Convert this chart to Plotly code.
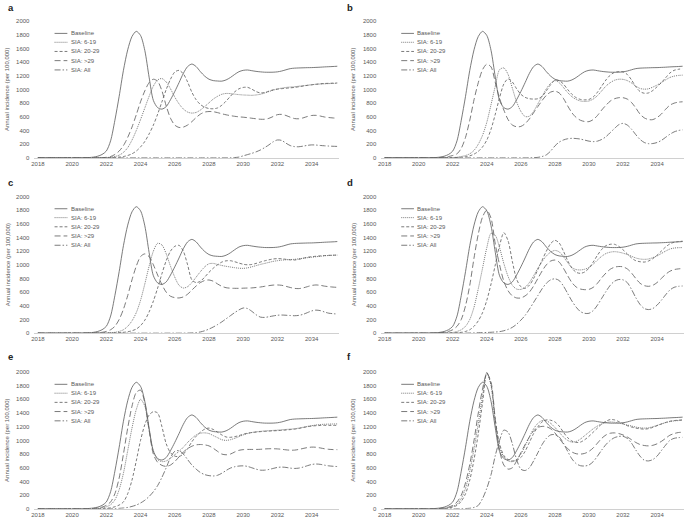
import numpy as np
import plotly.graph_objects as go

# time grid (quarter-year steps, 2018.00 .. 2035.50)
years = np.arange(2018.0, 2035.51, 0.25)

series_names = ["Baseline", "SIA: 6-19", "SIA: 20-29", "SIA: >29", "SIA: All"]
panel_labels = ["a", "b", "c", "d", "e", "f"]
x_ticks = [2018, 2020, 2022, 2024, 2026, 2028, 2030, 2032, 2034]
y_ticks = [0, 200, 400, 600, 800, 1000, 1200, 1400, 1600, 1800, 2000]
y_title = "Annual incidence (per 100,000)"

baseline = [0, 0, 0, 0,  0, 0, 0, 0,  0, 0, 1, 2,  5, 12, 25, 50,
            100, 250, 550, 900,  1280, 1580, 1775, 1850,  1790, 1570, 1180, 840,
            735, 713, 750, 850,  970, 1100, 1235, 1335,  1372, 1335, 1260, 1195,
            1150, 1130, 1124, 1122,  1140, 1175, 1220, 1260,  1280, 1285, 1275, 1265,
            1258, 1253, 1252, 1253,  1258, 1270, 1288, 1305,  1312, 1315, 1317, 1319,
            1320, 1323, 1326, 1330,  1333, 1336, 1340]

# ---- panel a ----
a_619 = [0, 0, 0, 0,  0, 0, 0, 0,  0, 0, 0, 0,  0, 1, 2, 3,
         5, 10, 20, 40,  80, 150, 260, 400,  560, 730, 900, 1050,
         1140, 1160, 1110, 1010,  890, 790, 715, 670,  655, 665, 700, 750,
         805, 860, 900, 930,  942, 940, 932, 925,  920, 917, 915, 920,
         930, 948, 970, 990,  1008, 1020, 1030, 1036,  1040, 1048, 1055, 1062,
         1070, 1076, 1080, 1083,  1086, 1088, 1090]
a_2029 = [0, 0, 0, 0,  0, 0, 0, 0,  0, 0, 0, 0,  0, 0, 0, 1,
          2, 4, 7, 12,  20, 35, 60, 100,  160, 240, 350, 480,
          640, 820, 1000, 1150,  1255, 1280, 1230, 1110,  960, 850, 780, 740,
          722, 718, 730, 770,  830, 900, 965, 1010,  1030, 1032, 1005, 970,
          950, 955, 975, 995,  1005, 1012, 1018, 1024,  1030, 1040, 1050, 1060,
          1068, 1076, 1083, 1088,  1090, 1093, 1095]
a_29 = [0, 0, 0, 0,  0, 0, 0, 0,  0, 0, 0, 0,  0, 1, 2, 4,
        8, 20, 50, 100,  180, 300, 450, 630,  820, 980, 1100, 1150,
        1120, 980, 760, 580,  480, 445, 450, 480,  530, 590, 640, 670,
        678, 675, 662, 645,  630, 618, 608, 600,  595, 588, 580, 572,
        565, 565, 578, 605,  632, 636, 620, 595,  575, 572, 585, 605,
        620, 622, 612, 598,  590, 584, 580]
a_all = [0, 0, 0, 0,  0, 0, 0, 0,  0, 0, 0, 0,  0, 0, 0, 0,
         0, 0, 0, 0,  0, 0, 0, 0,  0, 0, 0, 0,
         0, 0, 0, 0,  0, 0, 0, 0,  0, 0, 0, 0,
         0, 0, 0, 0,  0, 2, 5, 12,  30, 48, 66, 88,
         115, 150, 190, 235,  262, 255, 215, 180,  165, 163, 172, 183,
         190, 188, 182, 177,  173, 170, 168]

# ---- panel b ----
b_619 = [0, 0, 0, 0,  0, 0, 0, 0,  0, 0, 0, 0,  0, 1, 2, 3,
         5, 10, 20, 35,  60, 110, 200, 330,  520, 780, 1050, 1290,
         1315, 1220, 1020, 820,  680, 605, 610, 680,  790, 900, 1010, 1090,
         1130, 1100, 1030, 955,  895, 855, 832, 826,  832, 860, 910, 980,
         1050, 1100, 1135, 1150,  1148, 1130, 1095, 1050,  1015, 1005, 1010, 1035,
         1065, 1100, 1140, 1175,  1195, 1205, 1210]
b_2029 = [0, 0, 0, 0,  0, 0, 0, 0,  0, 0, 0, 0,  0, 0, 1, 2,
          2, 5, 10, 18,  30, 55, 95, 160,  260, 420, 640, 880,
          1080, 1155, 1110, 1010,  930, 885, 865, 860,  865, 900, 980, 1070,
          1135, 1130, 1080, 1000,  930, 880, 855, 848,  855, 890, 960, 1050,
          1140, 1210, 1250, 1262,  1258, 1220, 1140, 1040,  970, 945, 950, 985,
          1040, 1100, 1170, 1240,  1280, 1295, 1305]
b_29 = [0, 0, 0, 0,  0, 0, 0, 0,  0, 0, 0, 0,  2, 5, 10, 20,
        35, 60, 140, 300,  550, 850, 1100, 1290,  1370, 1330, 1100, 870,
        700, 560, 480, 455,  460, 500, 570, 660,  750, 840, 915, 962,
        975, 950, 870, 760,  660, 590, 550, 532,  530, 560, 620, 700,
        770, 830, 865, 880,  880, 860, 810, 730,  640, 585, 560, 560,
        590, 640, 710, 770,  800, 815, 820]
b_all = [0, 0, 0, 0,  0, 0, 0, 0,  0, 0, 0, 0,  0, 0, 0, 0,
         0, 0, 0, 0,  0, 0, 0, 0,  0, 0, 0, 0,
         0, 0, 0, 0,  0, 0, 1, 3,  8, 20, 45, 100,
         175, 230, 262, 280,  286, 283, 275, 260,  245, 238, 245, 270,
         310, 370, 430, 485,  505, 480, 420, 340,  270, 225, 208, 210,
         225, 255, 300, 345,  380, 400, 410]

# ---- panel c ----
c_619 = [0, 0, 0, 0,  0, 0, 0, 0,  0, 0, 0, 0,  0, 1, 2, 3,
         3, 6, 12, 25,  50, 100, 180, 300,  480, 720, 980, 1200,
         1315, 1290, 1160, 980,  820, 700, 660, 680,  740, 820, 900, 970,
         1015, 1020, 1005, 990,  978, 968, 958, 950,  948, 955, 970, 988,
         1005, 1020, 1035, 1050,  1060, 1068, 1073, 1077,  1080, 1088, 1096, 1104,
         1110, 1118, 1125, 1132,  1136, 1140, 1142]
c_2029 = [0, 0, 0, 0,  0, 0, 0, 0,  0, 0, 0, 0,  0, 0, 0, 1,
          1, 2, 4, 7,  12, 20, 35, 60,  110, 190, 310, 470,
          660, 870, 1060, 1200,  1270, 1285, 1200, 1000,  780, 740, 760, 820,
          890, 950, 1000, 1040,  1058, 1060, 1045, 1025,  1008, 1000, 1005, 1020,
          1040, 1058, 1073, 1085,  1090, 1088, 1080, 1072,  1070, 1080, 1095, 1110,
          1118, 1125, 1130, 1135,  1138, 1140, 1142]
c_29 = [0, 0, 0, 0,  0, 0, 0, 0,  0, 0, 0, 0,  1, 3, 6, 12,
        25, 50, 100, 200,  350, 550, 780, 980,  1120, 1160, 1120, 1000,
        850, 710, 600, 540,  520, 515, 530, 570,  630, 690, 740, 770,
        778, 760, 720, 685,  665, 658, 656, 656,  658, 660, 662, 668,
        675, 685, 695, 703,  705, 700, 685, 668,  655, 652, 662, 680,
        698, 705, 700, 688,  680, 674, 670]
c_all = [0, 0, 0, 0,  0, 0, 0, 0,  0, 0, 0, 0,  0, 0, 0, 0,
         0, 0, 0, 0,  0, 0, 0, 0,  0, 0, 0, 0,
         0, 0, 0, 0,  0, 0, 0, 1,  3, 8, 18, 35,
         60, 90, 125, 165,  210, 255, 300, 340,  368, 360, 320, 270,
         235, 230, 240, 252,  262, 265, 262, 258,  255, 260, 275, 300,
         325, 337, 330, 310,  292, 285, 280]

# ---- panel d ----
d_619 = [0, 0, 0, 0,  0, 0, 0, 0,  0, 0, 0, 0,  0, 1, 3, 5,
         10, 25, 50, 100,  200, 380, 650, 950,  1250, 1460, 1430, 1250,
         1020, 830, 700, 645,  640, 670, 740, 840,  950, 1050, 1130, 1185,
         1210, 1190, 1120, 1030,  960, 930, 925, 935,  960, 1010, 1070, 1125,
         1165, 1185, 1192, 1185,  1170, 1150, 1125, 1100,  1085, 1080, 1085, 1105,
         1130, 1165, 1200, 1230,  1245, 1250, 1252]
d_2029 = [0, 0, 0, 0,  0, 0, 0, 0,  0, 0, 0, 0,  0, 0, 1, 2,
          3, 6, 12, 25,  50, 100, 180, 300,  480, 720, 1000, 1280,
          1470, 1350, 1050, 790,  680, 655, 700, 800,  930, 1070, 1200, 1310,
          1358, 1320, 1200, 1060,  950, 890, 875, 895,  950, 1040, 1140, 1225,
          1280, 1300, 1300, 1270,  1220, 1160, 1100, 1060,  1045, 1040, 1055, 1090,
          1140, 1200, 1260, 1305,  1330, 1340, 1345]
d_29 = [0, 0, 0, 0,  0, 0, 0, 0,  0, 0, 0, 0,  2, 5, 12, 25,
        50, 100, 200, 400,  700, 1100, 1450, 1700,  1800, 1680, 1300, 1000,
        760, 620, 545, 515,  515, 545, 600, 690,  800, 910, 1000, 1055,
        1070, 1040, 950, 840,  740, 675, 645, 636,  640, 670, 730, 810,
        880, 935, 965, 975,  970, 940, 880, 800,  730, 695, 685, 700,
        740, 800, 860, 905,  930, 940, 945]
d_all = [0, 0, 0, 0,  0, 0, 0, 0,  0, 0, 0, 0,  0, 0, 0, 0,
         0, 0, 0, 0,  2, 4, 6, 8,  10, 13, 17, 22,
         35, 55, 85, 130,  190, 260, 350, 450,  550, 650, 730, 780,
         795, 770, 690, 580,  470, 380, 315, 290,  290, 330, 410, 510,
         610, 700, 760, 785,  780, 740, 640, 520,  420, 360, 345, 360,
         410, 480, 560, 630,  670, 685, 690]

# ---- panel e ----
e_619 = [0, 0, 0, 0,  0, 0, 0, 0,  0, 0, 0, 0,  1, 3, 7, 15,
         30, 60, 130, 280,  520, 850, 1180, 1450,  1600, 1500, 1150, 850,
         720, 690, 700, 740,  790, 840, 900, 970,  1030, 1080, 1105, 1110,
         1100, 1070, 1040, 1010,  1000, 1010, 1030, 1055,  1080, 1100, 1115, 1125,
         1132, 1138, 1142, 1146,  1150, 1155, 1160, 1165,  1170, 1180, 1192, 1205,
         1215, 1225, 1232, 1236,  1238, 1240, 1241]
e_2029 = [0, 0, 0, 0,  0, 0, 0, 0,  0, 0, 0, 0,  0, 1, 2, 4,
          8, 15, 30, 55,  100, 220, 420, 700,  1000, 1230, 1370, 1420,
          1400, 1200, 950, 820,  770, 765, 800, 880,  980, 1060, 1120, 1165,
          1180, 1160, 1120, 1080,  1050, 1045, 1055, 1070,  1090, 1105, 1115, 1122,
          1128, 1132, 1136, 1140,  1143, 1147, 1152, 1158,  1165, 1175, 1188, 1200,
          1210, 1215, 1218, 1220,  1220, 1220, 1220]
e_29 = [0, 0, 0, 0,  0, 0, 0, 0,  0, 0, 0, 0,  2, 5, 12, 25,
        50, 100, 220, 450,  800, 1180, 1500, 1700,  1735, 1550, 1150, 800,
        680, 635, 620, 640,  690, 760, 830, 880,  915, 935, 940, 935,
        920, 885, 840, 800,  790, 800, 830, 855,  865, 868, 868, 868,
        870, 875, 878, 878,  876, 870, 862, 857,  858, 868, 882, 895,
        902, 900, 890, 878,  870, 866, 865]
e_all = [0, 0, 0, 0,  0, 0, 0, 0,  0, 0, 0, 0,  0, 0, 0, 0,
         1, 2, 4, 7,  12, 20, 35, 55,  85, 125, 180, 250,
         340, 460, 600, 750,  840, 850, 800, 720,  640, 580, 530, 500,
         485, 480, 490, 520,  560, 595, 615, 625,  628, 620, 600, 580,
         565, 565, 575, 590,  605, 610, 605, 595,  590, 595, 610, 630,
         648, 655, 650, 638,  628, 622, 618]

# ---- panel f ----
f_619 = [0, 0, 0, 0,  0, 0, 0, 0,  0, 0, 0, 0,  1, 3, 8, 18,
         35, 70, 150, 300,  550, 880, 1250, 1650,  1990, 1800, 1250, 900,
         760, 700, 690, 720,  800, 920, 1050, 1170,  1250, 1290, 1285, 1250,
         1190, 1120, 1050, 1000,  975, 985, 1020, 1070,  1120, 1170, 1210, 1240,
         1260, 1270, 1265, 1255,  1240, 1225, 1210, 1195,  1185, 1180, 1185, 1200,
         1220, 1240, 1260, 1275,  1285, 1290, 1295]
f_2029 = [0, 0, 0, 0,  0, 0, 0, 0,  0, 0, 0, 0,  0, 2, 5, 12,
          25, 50, 110, 220,  420, 720, 1100, 1550,  1990, 1820, 1300, 950,
          780, 720, 700, 710,  750, 840, 970, 1100,  1200, 1270, 1300, 1295,
          1270, 1210, 1120, 1040,  990, 970, 975, 1010,  1060, 1120, 1180, 1240,
          1280, 1305, 1300, 1275,  1245, 1215, 1195, 1180,  1170, 1165, 1172, 1190,
          1215, 1240, 1262, 1280,  1290, 1295, 1300]
f_29 = [0, 0, 0, 0,  0, 0, 0, 0,  0, 0, 0, 0,  2, 5, 12, 25,
        50, 100, 200, 380,  650, 1000, 1400, 1750,  1980, 1850, 1300, 850,
        640, 580, 600, 700,  820, 940, 1050, 1140,  1190, 1205, 1200, 1170,
        1110, 1030, 950, 880,  830, 805, 800, 810,  840, 890, 960, 1030,
        1080, 1105, 1110, 1100,  1080, 1050, 1010, 970,  940, 925, 920, 928,
        950, 985, 1030, 1075,  1100, 1115, 1120]
f_all = [0, 0, 0, 0,  0, 0, 0, 0,  0, 0, 0, 0,  0, 0, 0, 0,
         0, 1, 2, 4,  8, 20, 50, 150,  300, 500, 780, 1000,
         1150, 1120, 950, 720,  580, 560, 600, 700,  820, 940, 1030, 1080,
         1085, 1050, 960, 840,  730, 660, 630, 626,  640, 690, 770, 860,
         940, 1000, 1040, 1058,  1060, 1030, 960, 860,  770, 710, 700, 720,
         770, 850, 930, 1000,  1030, 1040, 1045]

panels = [
    [baseline, a_619, a_2029, a_29, a_all],
    [baseline, b_619, b_2029, b_29, b_all],
    [baseline, c_619, c_2029, c_29, c_all],
    [baseline, d_619, d_2029, d_29, d_all],
    [baseline, e_619, e_2029, e_29, e_all],
    [baseline, f_619, f_2029, f_29, f_all],
]
for p in panels:
    for s in p:
        assert len(s) == len(years), len(s)

# ---------------- styling ----------------
W, H = 685, 521
FONT = "Liberation Sans, Arial, sans-serif"
LINE_COLOR = "#636363"
TEXT_COLOR = "#595959"
dashes = ["solid", "1px,1px", "3px,2px", "6px,3px", "6px,2px,1.5px,2px"]

col_px = [(31.6, 337.5), (379.9, 684.3)]          # x-domain in pixels
row_px = [(18.3, 156.7), (195.7, 334.0), (373.3, 511.7)]  # y-domain (top, bottom) pixels
letter_pos = [(3.5, 5), (343.5, 5), (3.5, 182), (343.5, 182), (3.5, 358), (343.5, 358)]
ytitle_x = [4.5, 352]

fig = go.Figure()
annotations = []
shapes = []
legend_rows = [0.910, 0.845, 0.778, 0.711, 0.643]

for i, p in enumerate(panels):
    r, c = divmod(i, 2)
    n = "" if i == 0 else str(i + 1)
    xa, ya = "x" + n, "y" + n
    for k, s in enumerate(p):
        fig.add_trace(go.Scatter(
            x=years, y=s, mode="lines", name=series_names[k],
            line=dict(color=LINE_COLOR, width=0.85, dash=dashes[k],
                      shape="spline", smoothing=0.8),
            xaxis=xa, yaxis=ya, showlegend=False, hoverinfo="skip"))
    x0, x1 = col_px[c]
    yt, yb = row_px[r]
    fig.layout["xaxis" + n] = dict(
        domain=[x0 / W, x1 / W], range=[2017.8, 2035.6], anchor=ya,
        tickmode="array", tickvals=x_ticks, ticktext=[str(t) for t in x_ticks],
        tickfont=dict(size=6, color=TEXT_COLOR, family=FONT),
        showgrid=False, zeroline=False, showline=True, linecolor="#d0d0d0",
        linewidth=1, ticks="", fixedrange=True)
    fig.layout["yaxis" + n] = dict(
        domain=[1 - yb / H, 1 - yt / H], range=[0, 2000], anchor=xa,
        tickmode="array", tickvals=y_ticks, ticktext=[str(t) for t in y_ticks],
        tickfont=dict(size=6, color=TEXT_COLOR, family=FONT),
        showgrid=False, zeroline=False, showline=False, ticks="",
        ticklabelstandoff=4, fixedrange=True)
    # panel letter
    lx, ly = letter_pos[i]
    annotations.append(dict(text="<b>%s</b>" % panel_labels[i], xref="paper", yref="paper",
                            x=lx / W, y=1 - ly / H, xanchor="left", yanchor="middle",
                            showarrow=False, font=dict(size=9.5, color="#222222", family=FONT)))
    # y axis title
    annotations.append(dict(text=y_title, xref="paper", yref="paper",
                            x=ytitle_x[c] / W, y=1 - (yt + yb) / 2 / H,
                            xanchor="center", yanchor="middle", textangle=-90,
                            showarrow=False, font=dict(size=6, color=TEXT_COLOR, family=FONT)))
    # legend (inside each panel, upper left)
    for k, name in enumerate(series_names):
        shapes.append(dict(type="line", xref=xa + " domain", yref=ya + " domain",
                           x0=0.066, x1=0.108, y0=legend_rows[k], y1=legend_rows[k],
                           line=dict(color=LINE_COLOR, width=0.85, dash=dashes[k])))
        annotations.append(dict(text=name, xref=xa + " domain", yref=ya + " domain",
                                x=0.112, y=legend_rows[k], xanchor="left", yanchor="middle",
                                showarrow=False,
                                font=dict(size=6, color=TEXT_COLOR, family=FONT)))

fig.update_layout(
    width=W, height=H, margin=dict(l=0, r=0, t=0, b=0),
    paper_bgcolor="white", plot_bgcolor="white",
    showlegend=False, annotations=annotations, shapes=shapes,
    font=dict(family=FONT, color=TEXT_COLOR))

fig.write_html("out.html", config={"displayModeBar": False},
               post_script="document.body.style.margin='0';")
